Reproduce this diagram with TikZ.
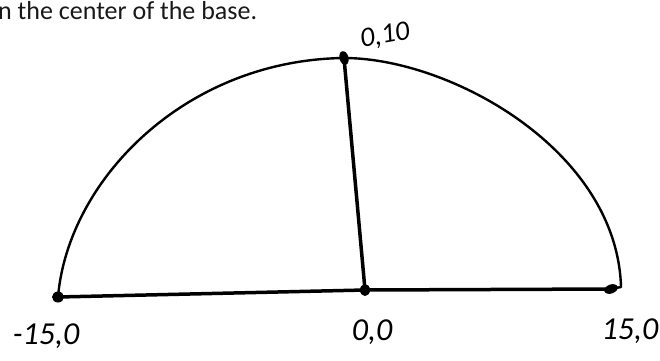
\documentclass[tikz,border=0pt]{standalone}
\usepackage{fontspec}
\setmainfont{Carlito}
\usetikzlibrary{positioning}
\tikzset{
  rim/.style={line width=2.4pt,line join=round,line cap=round},   % hand-drawn arc
  seg/.style={line width=3.5pt,line cap=round},                   % base and height
  dot/.style={fill=black},
  hand/.style={font=\fontsize{32}{32}\selectfont\itshape,inner sep=0pt},
  caption/.style={font=\fontsize{26}{26}\selectfont,text=black!90,inner sep=0pt}
}
\begin{document}
\begin{tikzpicture}[x=1pt,y=-1pt]
  \useasboundingbox (0,0) rectangle (660,360);
  % cut-off line of the question text
  \node[caption,anchor=base west] (cap) at (-2,19) {n the center of the base.};

  % the four marked points
  \coordinate (left) at (58,297);
  \coordinate (origin) at (365,290);
  \coordinate (right) at (611,289);
  \coordinate (top) at (344,58);

  \draw[rim] (left) .. controls (68,180) and (185,60) .. (top)
    .. controls (450,58) and (617,150) .. (621,287) -- (right);
  \draw[seg] (left) -- (origin) -- (right);
  \draw[seg] (top) -- (origin);

  \fill[dot] (left) ellipse[x radius=6pt,y radius=5.5pt];
  \fill[dot] (top) ellipse[x radius=4.5pt,y radius=7pt,rotate=15];
  \fill[dot] (origin) ellipse[x radius=5pt,y radius=6pt];
  \fill[dot] (right) ellipse[x radius=7pt,y radius=4.5pt,rotate=20];

  \node[hand] (lleft) at (46,336) {-15,0};
  \node[hand] (lorigin) at (372,332) {0,0};
  \node[hand] (lright) at (630,331) {15,0};
  \node[hand,font=\fontsize{28}{28}\selectfont\itshape,rotate=10] (ltop) at (385,36) {0,10};
\end{tikzpicture}
\end{document}
